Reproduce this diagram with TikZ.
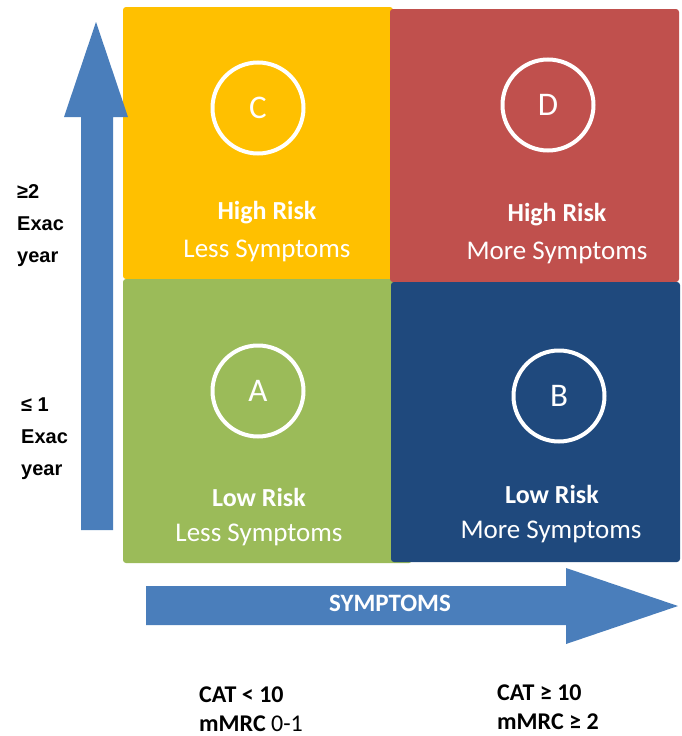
\documentclass[tikz,border=0pt]{standalone}
\usepackage{fontspec}
\setmainfont{Carlito}
\newfontfamily\arialfont{Liberation Sans}
\definecolor{qyellow}{HTML}{FFC000}
\definecolor{qred}{HTML}{C0504D}
\definecolor{qgreen}{HTML}{9BBB59}
\definecolor{qblue}{HTML}{1F497D}
\definecolor{arrblue}{HTML}{4A7EBB}
\tikzset{
  letter/.style={circle, draw=white, line width=4pt, minimum size=91pt, inner sep=0pt, text=white, font=\fontsize{33}{36}\selectfont},
  risk/.style={text=white, inner sep=0pt, font=\bfseries\fontsize{26}{30}\selectfont},
  symp/.style={text=white, inner sep=0pt, font=\fontsize{27}{30}\selectfont},
  sidelab/.style={anchor=west, align=left, inner sep=0pt, font=\arialfont\bfseries\fontsize{20}{32}\selectfont},
  botlab/.style={anchor=west, align=left, inner sep=0pt, font=\fontsize{24}{29}\selectfont},
}
\begin{document}
\begin{tikzpicture}[x=1pt,y=-1pt]
\useasboundingbox (0,0) rectangle (681,736);
% quadrants
\fill[qyellow, rounded corners=3pt] (123,7) rectangle (393,279);
\fill[qgreen, rounded corners=3pt] (123,279) rectangle (412,563);
\fill[qred, rounded corners=3pt] (390,9) rectangle (679,282);
\fill[qblue, rounded corners=3pt] (391,282) rectangle (680,562);
% circles
\node[letter] (cC) at (258,108) {C};
\node[letter] (cD) at (548,105) {D};
\node[letter] (cA) at (258,391) {A};
\node[letter] (cB) at (559,396) {B};
% quadrant texts
\node[risk] (rC) at (267,213) {High Risk};
\node[symp] (sC) at (267,251) {Less Symptoms};
\node[risk] (rD) at (557,215) {High Risk};
\node[symp] (sD) at (557,253) {More Symptoms};
\node[risk] (rA) at (259,497) {Low Risk};
\node[symp] (sA) at (259,535) {Less Symptoms};
\node[risk] (rB) at (552,494) {Low Risk};
\node[symp] (sB) at (551,532) {More Symptoms};
% vertical arrow
\fill[arrblue] (81,530) -- (81,117) -- (64,117) -- (96,22) -- (128,117) -- (113,117) -- (113,530) -- cycle;
% horizontal arrow
\fill[arrblue] (146,586) -- (566,586) -- (566,568) -- (678,606) -- (566,644) -- (566,625) -- (146,625) -- cycle;
\node[text=white, inner sep=0pt, font=\bfseries\fontsize{25}{28}\selectfont] (sym) at (390,603) {SYMPTOMS};
% side labels
\node[sidelab] (hi) at (17,226) {≥2\\Exac\\year};
\node[sidelab] (lo) at (21,439) {≤ 1\\Exac\\year};
% bottom labels
\node[botlab] (bl) at (199,709) {\textbf{CAT < 10}\\\textbf{mMRC} 0-1};
\node[botlab] (br) at (497,707) {\textbf{CAT ≥ 10}\\\textbf{mMRC ≥ 2}};
\end{tikzpicture}
\end{document}
